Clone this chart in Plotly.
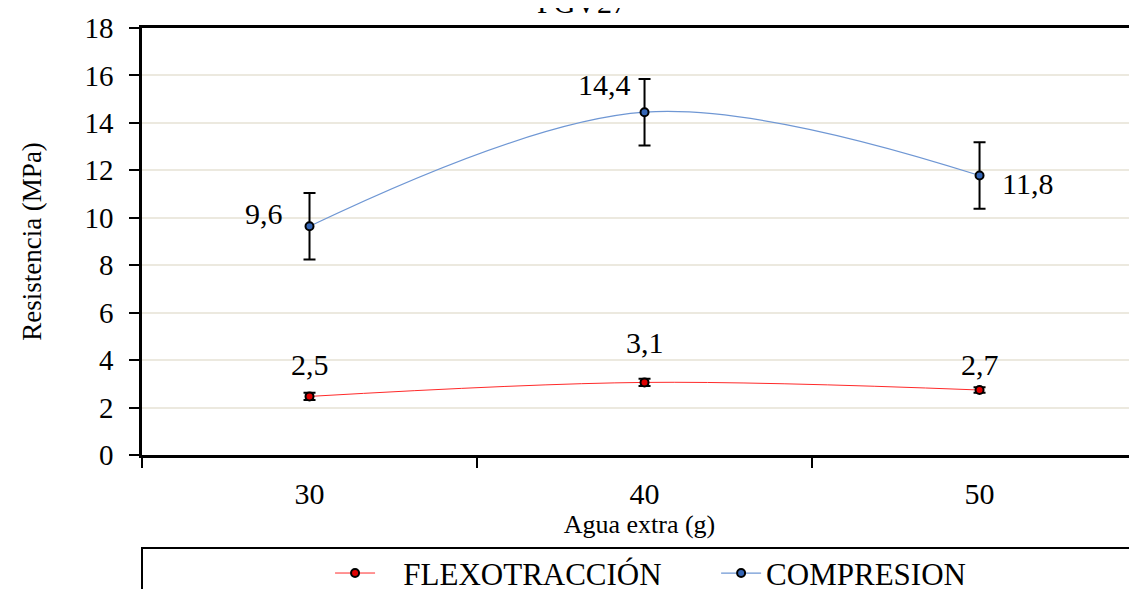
import plotly.graph_objects as go

categories = ["30", "40", "50"]
flex_values = [2.47, 3.06, 2.74]
flex_err = [0.15, 0.15, 0.12]
flex_labels = ["2,5", "3,1", "2,7"]
comp_values = [9.64, 14.45, 11.78]
comp_err = [1.4, 1.4, 1.4]
comp_labels = ["9,6", "14,4", "11,8"]
y_ticks = [0, 2, 4, 6, 8, 10, 12, 14, 16, 18]

FONT = "Liberation Serif, Times New Roman, serif"

fig = go.Figure()

fig.add_trace(go.Scatter(
    x=categories, y=flex_values, name="\u00a0\u00a0\u00a0FLEXOTRACCIÓN", legend="legend",
    mode="lines+markers", line=dict(color="#FF2A2A", width=1, shape="spline"),
    marker=dict(size=8, color="#E00000", line=dict(color="black", width=2)),
    error_y=dict(type="data", array=flex_err, color="black", thickness=2, width=6),
))
fig.add_trace(go.Scatter(
    x=categories, y=comp_values, name="COMPRESION", legend="legend2",
    mode="lines+markers", line=dict(color="#6F97D4", width=1.2, shape="spline"),
    marker=dict(size=8, color="#3465B5", line=dict(color="black", width=2)),
    error_y=dict(type="data", array=comp_err, color="black", thickness=2, width=6),
))

# data labels (category axis: use category index positions)
comp_pos = [("right", -25, 13), ("right", -12, 28), ("left", 20, -8)]
for i, (v, t, (xa, xs, ys)) in enumerate(zip(comp_values, comp_labels, comp_pos)):
    fig.add_annotation(x=i, y=v, xref="x", yref="y", text=t, showarrow=False,
                       xanchor=xa, yanchor="middle", xshift=xs, yshift=ys,
                       font=dict(family=FONT, size=30, color="black"))
flex_shift = [32, 40, 26]
for i, (v, t, ys) in enumerate(zip(flex_values, flex_labels, flex_shift)):
    fig.add_annotation(x=i, y=v, xref="x", yref="y", text=t, showarrow=False,
                       xanchor="center", yanchor="middle", yshift=ys,
                       font=dict(family=FONT, size=30, color="black"))

# partially clipped chart title
fig.add_annotation(xref="paper", yref="paper", x=0.442, y=1.060, text="PGV27",
                   showarrow=False, xanchor="center", yanchor="middle",
                   font=dict(family=FONT, size=30, color="black"))

# legend box
fig.add_shape(type="rect", xref="paper", yref="paper", x0=0, x1=1.02, y0=-0.2178, y1=-0.40,
              line=dict(color="black", width=2), fillcolor="rgba(0,0,0,0)")

leg_common = dict(orientation="h", xanchor="left", yanchor="top", y=-0.214,
                  font=dict(family=FONT, size=31, color="black"),
                  bgcolor="rgba(0,0,0,0)", borderwidth=0, itemwidth=40)

fig.update_layout(
    width=1137, height=589,
    margin=dict(l=134, r=8, t=20, b=142, autoexpand=False),
    paper_bgcolor="white", plot_bgcolor="white",
    font=dict(family=FONT, color="black"),
    showlegend=True,
    legend=dict(x=0.189, **leg_common),
    legend2=dict(x=0.577, **leg_common),
    xaxis=dict(
        type="category", range=[-0.5, 2.47], tickson="boundaries",
        ticks="outside", ticklen=10, tickwidth=2, tickcolor="black",
        showline=True, linecolor="black", linewidth=3, mirror=True,
        showgrid=False, zeroline=False, automargin=False,
        tickfont=dict(family=FONT, size=30, color="black"), ticklabelstandoff=10,
        title=dict(text="Agua extra (g)", font=dict(family=FONT, size=26, color="black"), standoff=6),
    ),
    yaxis=dict(
        range=[0, 18], tickvals=y_ticks, ticktext=[str(v) for v in y_ticks],
        ticks="outside", ticklen=10, tickwidth=2, tickcolor="black",
        showline=True, linecolor="black", linewidth=2.5,
        showgrid=True, gridcolor="#ECE9DF", gridwidth=2, zeroline=False, automargin=False,
        tickfont=dict(family=FONT, size=29, color="black"), ticklabelstandoff=10,
        title=dict(text="Resistencia (MPa)", font=dict(family=FONT, size=27, color="black"), standoff=36),
    ),
)

fig.write_html("out.html")
